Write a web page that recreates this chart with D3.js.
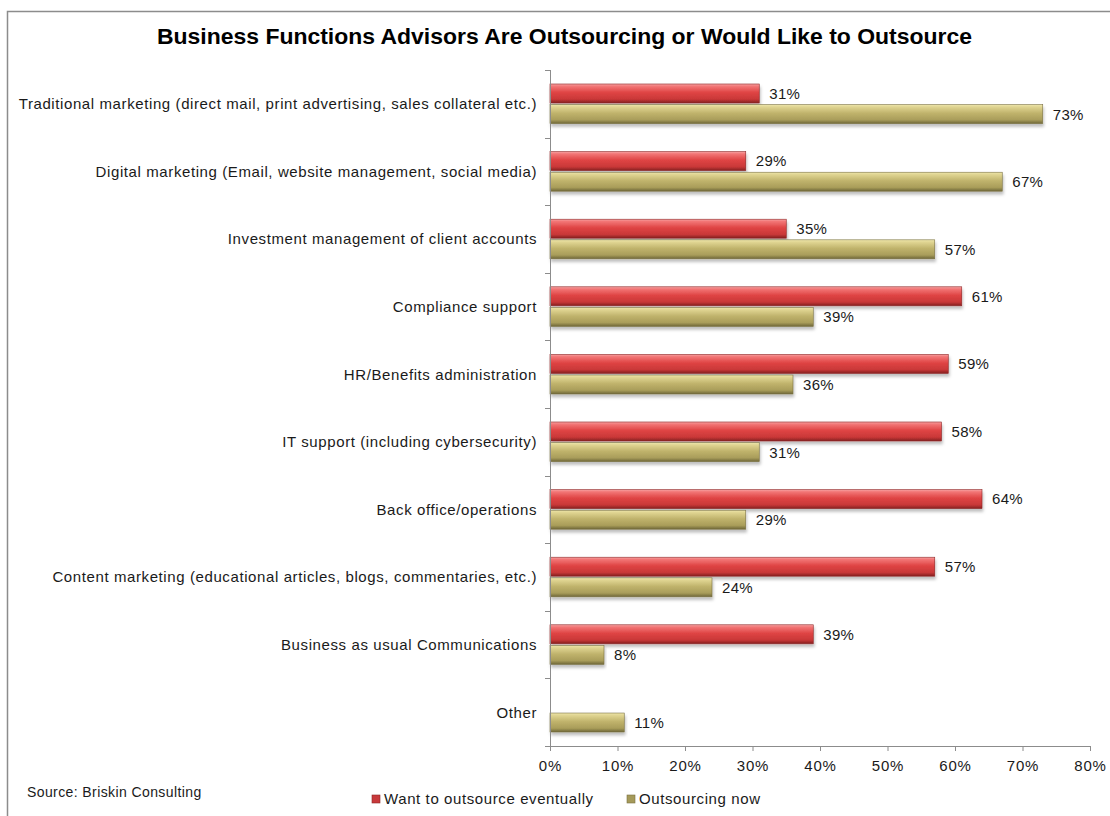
<!DOCTYPE html>
<html>
<head>
<meta charset="utf-8">
<script src="https://cdn.jsdelivr.net/npm/d3@7"></script>
<style>
  html, body { margin: 0; padding: 0; background: #fff; }
  svg { display: block; font-family: "Liberation Sans", Arial, sans-serif; }
</style>
</head>
<body>
<svg id="chart" width="1110" height="816"></svg>
<script>
// Survey categories, top to bottom
const categories = [
  "Traditional marketing (direct mail, print advertising, sales collateral etc.)",
  "Digital marketing (Email, website management, social media)",
  "Investment management of client accounts",
  "Compliance support",
  "HR/Benefits administration",
  "IT support (including cybersecurity)",
  "Back office/operations",
  "Content marketing (educational articles, blogs, commentaries, etc.)",
  "Business as usual Communications",
  "Other"
];
// Percent of advisors, per series (null = no response shown)
const wantEventually = [31, 29, 35, 61, 59, 58, 64, 57, 39, null];
const outsourcingNow = [73, 67, 57, 39, 36, 31, 29, 24, 8, 11];
const seriesNames = ["Want to outsource eventually", "Outsourcing now"];
const xTicks = [0, 10, 20, 30, 40, 50, 60, 70, 80];

const svg = d3.select("#chart");
const margin = { left: 550, right: 20, top: 70, bottom: 70 };
const plotW = 1090 - margin.left;
const plotH = 746 - margin.top;

// Chart frame
svg.append("path")
  .attr("d", "M7.5,816 V11.5 H1110")
  .attr("fill", "none").attr("stroke", "#8c8c8c").attr("stroke-width", 1.5);

// Title
svg.append("text")
  .attr("x", 157).attr("y", 44)
  .attr("textLength", 815).attr("lengthAdjust", "spacingAndGlyphs")
  .attr("font-size", 22).attr("font-weight", "bold").attr("fill", "#000")
  .text("Business Functions Advisors Are Outsourcing or Would Like to Outsource");

const x = d3.scaleLinear().domain([0, 80]).range([0, plotW]);
const y = d3.scaleBand().domain(categories).range([0, plotH]);
const inner = d3.scaleBand().domain(seriesNames).range([14, y.bandwidth() - 14]).paddingInner(0.08);

const g = svg.append("g").attr("transform", `translate(${margin.left},${margin.top})`);

// Gradients for the bevelled bars
const defs = svg.append("defs");
function barGradient(id, stops) {
  const lg = defs.append("linearGradient").attr("id", id)
    .attr("x1", 0).attr("y1", 0).attr("x2", 0).attr("y2", 1);
  stops.forEach(([o, c]) => lg.append("stop").attr("offset", o).attr("stop-color", c));
}
barGradient("gRed", [[0, "#f6a3a3"], [0.12, "#f27676"], [0.45, "#df4444"], [0.8, "#c93838"], [1, "#842020"]]);
barGradient("gTan", [[0, "#eee6ac"], [0.12, "#e0d592"], [0.45, "#c0b36c"], [0.8, "#a99d5a"], [1, "#6e6638"]]);
const shadow = defs.append("filter").attr("id", "shadow")
  .attr("x", "-5%").attr("y", "-20%").attr("width", "110%").attr("height", "160%");
shadow.append("feDropShadow").attr("dx", 1).attr("dy", 3).attr("stdDeviation", 1.6)
  .attr("flood-color", "#000").attr("flood-opacity", 0.25);

const fills = { [seriesNames[0]]: "url(#gRed)", [seriesNames[1]]: "url(#gTan)" };
const edge = { [seriesNames[0]]: "#8e2626", [seriesNames[1]]: "#7a7142" };
const legendFill = { [seriesNames[0]]: "#c8393b", [seriesNames[1]]: "#a59a5a" };

const rows = categories.map((c, i) => [
  { cat: c, series: seriesNames[0], value: wantEventually[i] },
  { cat: c, series: seriesNames[1], value: outsourcingNow[i] }
]).flat().filter(d => d.value != null);

// Bars
g.selectAll("rect.bar").data(rows).join("rect")
  .attr("class", "bar")
  .attr("x", 0)
  .attr("y", d => y(d.cat) + inner(d.series))
  .attr("width", d => x(d.value))
  .attr("height", inner.bandwidth())
  .attr("fill", d => fills[d.series])
  .attr("stroke", d => edge[d.series]).attr("stroke-width", 0.6)
  .attr("filter", "url(#shadow)");

// Value labels
g.selectAll("text.val").data(rows).join("text")
  .attr("class", "val")
  .attr("x", d => x(d.value) + 10)
  .attr("y", d => y(d.cat) + inner(d.series) + inner.bandwidth() / 2)
  .attr("dy", "0.36em")
  .attr("font-size", 15).attr("letter-spacing", 0.3).attr("fill", "#1a1a1a")
  .text(d => d.value + "%");

// Y axis: vertical line with tick marks between categories
const yAxis = g.append("g").attr("stroke", "#8c8c8c");
yAxis.append("line").attr("x1", 0.5).attr("x2", 0.5).attr("y1", 0).attr("y2", plotH);
yAxis.selectAll("line.tick").data(categories.concat([null])).join("line")
  .attr("class", "tick")
  .attr("x1", -5).attr("x2", 0.5)
  .attr("y1", (d, i) => Math.round(i * y.step()) + 0.5)
  .attr("y2", (d, i) => Math.round(i * y.step()) + 0.5);

// Category labels
g.selectAll("text.cat").data(categories).join("text")
  .attr("class", "cat")
  .attr("x", -13)
  .attr("y", d => y(d) + y.bandwidth() / 2)
  .attr("dy", "0.36em")
  .attr("text-anchor", "end")
  .attr("font-size", 15).attr("letter-spacing", 0.6).attr("fill", "#1a1a1a")
  .text(d => d);

// X axis
const xAxis = g.append("g").attr("transform", `translate(0,${plotH})`)
  .call(d3.axisBottom(x).tickValues(xTicks).tickFormat(d => d + "%").tickSize(5).tickSizeOuter(0));
xAxis.select(".domain").attr("stroke", "#8c8c8c");
xAxis.selectAll(".tick line").attr("stroke", "#8c8c8c");
xAxis.selectAll(".tick text")
  .attr("font-size", 15).attr("fill", "#1a1a1a")
  .attr("font-family", "Liberation Sans, Arial, sans-serif")
  .attr("letter-spacing", 0.8)
  .attr("y", 14);

// Source note
svg.append("text")
  .attr("x", 27).attr("y", 797)
  .attr("font-size", 14).attr("letter-spacing", 0.4).attr("fill", "#1a1a1a")
  .text("Source: Briskin Consulting");

// Legend
const legendX = [372, 627];
const legend = svg.selectAll("g.legend").data(seriesNames).join("g")
  .attr("class", "legend")
  .attr("transform", (d, i) => `translate(${legendX[i]},799)`);
legend.append("rect")
  .attr("x", 0).attr("y", -4).attr("width", 8).attr("height", 8)
  .attr("fill", d => legendFill[d]).attr("stroke", d => edge[d]).attr("stroke-width", 0.6);
legend.append("text")
  .attr("x", 12).attr("y", 0).attr("dy", "0.36em")
  .attr("font-size", 15).attr("letter-spacing", 0.6).attr("fill", "#1a1a1a")
  .text(d => d);
</script>
</body>
</html>
